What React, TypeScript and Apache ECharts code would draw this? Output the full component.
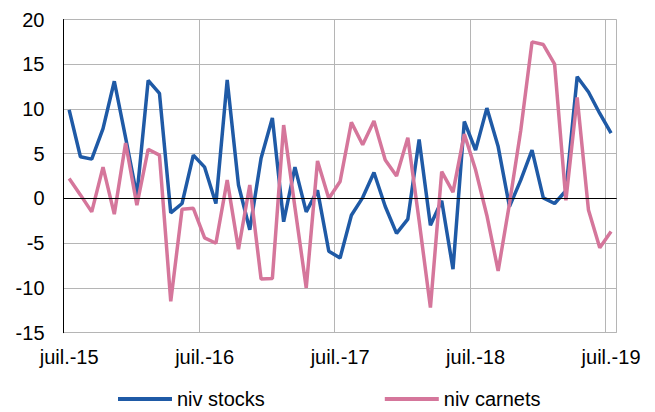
import React, { useEffect, useRef } from "react";
import * as echarts from "echarts";

const monthNames = ["janv.", "févr.", "mars", "avr.", "mai", "juin", "juil.", "août", "sept.", "oct.", "nov.", "déc."];
const categories: string[] = [];
for (let k = 0; k < 49; k++) {
  const m = (6 + k) % 12;
  const y = 15 + Math.floor((6 + k) / 12);
  categories.push(monthNames[m] + "-" + y);
}

const nivStocks = [
  9.9, 4.66, 4.4, 7.8, 13.1, 6.8, 0.3, 13.2, 11.75, -1.6, -0.56, 4.85,
  3.5, -0.56, 13.25, 1.5, -3.5, 4.5, 9.0, -2.6, 3.5, -1.5, 0.9, -5.9,
  -6.65, -1.87, 0.1, 2.9, -0.9, -3.9, -2.3, 6.6, -3.0, -0.26, -7.9, 8.6,
  5.4, 10.1, 5.8, -0.9, 2.05, 5.4, 0.07, -0.56, 0.86, 13.6, 11.9, 9.5,
  7.3,
];

const nivCarnets = [
  2.24, 0.4, -1.5, 3.5, -1.75, 6.2, -0.75, 5.5, 4.85, -11.5, -1.2, -1.1,
  -4.4, -5.0, 2.05, -5.67, 1.5, -9.0, -8.95, 8.2, -1.0, -10.0, 4.2, 0.0,
  1.9, 8.5, 6.0, 8.65, 4.3, 2.5, 6.8, -2.5, -12.2, 3.0, 0.7, 7.2,
  3.2, -1.9, -8.1, -0.6, 7.6, 17.5, 17.2, 15.0, -0.2, 11.3, -1.3, -5.5,
  -3.7,
];

const seriesNames = ["niv stocks", "niv carnets"];
const FONT = "'Liberation Sans', Arial, sans-serif";
const BLUE = "#1f5aa6";
const PINK = "#d5769b";
const GRID = "#b5b5b5";

export default function App() {
  const ref = useRef<HTMLDivElement>(null);
  useEffect(() => {
    document.body.style.margin = "0";
    const chart = echarts.init(ref.current!, null, { renderer: "svg" });
    chart.setOption({
      animation: false,
      backgroundColor: "#fff",
      textStyle: { fontFamily: FONT },
      grid: { left: 63.5, right: 38.3, top: 19.5, bottom: 79.3, containLabel: false, outerBoundsMode: "none" },
      legend: {
        data: seriesNames,
        left: 113,
        top: 384,
        padding: [5, 5, 2, 5],
        itemWidth: 54,
        itemHeight: 4,
        itemGap: 120,
        icon: "rect",
        textStyle: { fontFamily: FONT, fontSize: 20, lineHeight: 20, color: "#000" },
      },
      xAxis: {
        type: "category",
        data: categories,
        boundaryGap: true,
        axisLine: { show: false },
        axisTick: { show: false },
        axisLabel: { interval: 11, fontFamily: FONT, fontSize: 20, color: "#000", margin: 14 },
        splitLine: { show: true, interval: 11, lineStyle: { color: GRID, width: 1 } },
      },
      yAxis: {
        type: "value",
        min: -15,
        max: 20,
        interval: 5,
        axisLine: { show: true, lineStyle: { color: "#000", width: 1 } },
        axisTick: { show: false },
        axisLabel: { fontFamily: FONT, fontSize: 20, color: "#000", margin: 19 },
        splitLine: { show: true, lineStyle: { color: GRID, width: 1 } },
      },
      series: [
        {
          name: seriesNames[0],
          type: "line",
          data: nivStocks,
          symbol: "none",
          lineStyle: { color: BLUE, width: 3.5 },
          itemStyle: { color: BLUE },
          markLine: {
            silent: true,
            symbol: "none",
            label: { show: false },
            lineStyle: { color: "#000", width: 1, type: "solid" },
            data: [{ yAxis: 0 }],
          },
        },
        {
          name: seriesNames[1],
          type: "line",
          data: nivCarnets,
          symbol: "none",
          lineStyle: { color: PINK, width: 3.5 },
          itemStyle: { color: PINK },
        },
      ],
    });
    return () => chart.dispose();
  }, []);
  return <div ref={ref} style={{ width: 655, height: 412, position: "absolute", left: 0, top: 0 }} />;
}
